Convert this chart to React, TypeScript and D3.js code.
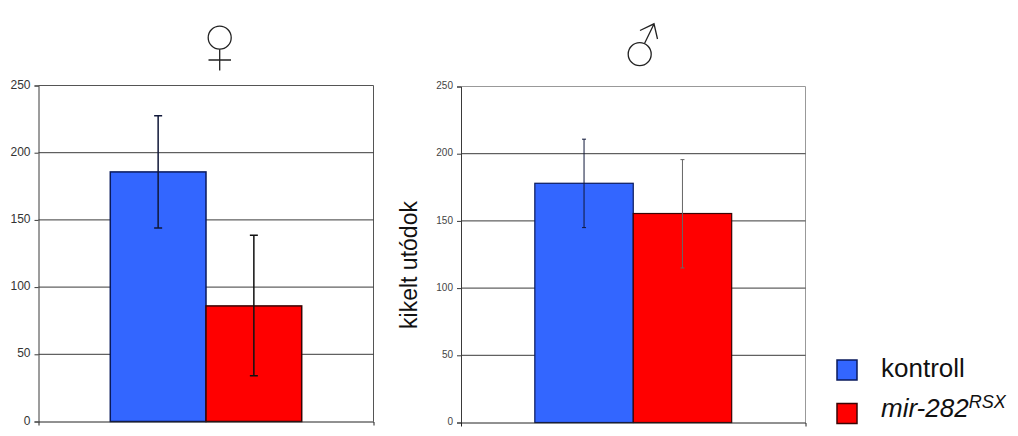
import { useEffect, useRef } from "react";
import * as d3 from "d3";

const seriesNames = ["kontroll", "mir-282"];
const seriesColors = ["#3366ff", "#ff0000"];
const seriesStrokes = ["#0a1a5c", "#3a0404"];
const yTicks = [0, 50, 100, 150, 200, 250];

const femaleValues = [185.7, 86];
const femaleErrLow = [144, 34];
const femaleErrHigh = [227.4, 138.6];

const maleValues = [178, 155.5];
const maleErrLow = [145, 115];
const maleErrHigh = [210.8, 195.6];

const FONT = "'Liberation Sans', Arial, sans-serif";

function Panel({ box, values, low, high, tickFont, tickColor, capHalf, errWidth, errColors, borderColor, barStroke }: any) {
  const ref = useRef<SVGGElement>(null);

  useEffect(() => {
    const g = d3.select(ref.current);
    g.selectAll("*").remove();

    const x = d3.scaleBand<string>()
      .domain(seriesNames)
      .range([box.left, box.right])
      .paddingInner(0)
      .paddingOuter(0.75);
    const y = d3.scaleLinear([0, 250], [box.bottom, box.top]);

    // plot border, top and right side only, the axes draw the rest
    g.append("path")
      .attr("fill", "none")
      .attr("stroke", borderColor)
      .attr("d", `M${box.left},${box.top}H${box.right}V${box.bottom}`);

    // grid lines
    g.append("g")
      .selectAll("line")
      .data(yTicks.filter(d => d > 0 && d < 250))
      .join("line")
      .attr("x1", box.left)
      .attr("x2", box.right)
      .attr("y1", d => y(d))
      .attr("y2", d => y(d))
      .attr("stroke", "#3a3a3a");

    // bars
    g.append("g")
      .selectAll("rect")
      .data(values)
      .join("rect")
      .attr("x", (_, i) => x(seriesNames[i]))
      .attr("y", (d: any) => y(d))
      .attr("width", x.bandwidth())
      .attr("height", (d: any) => y(0) - y(d))
      .attr("fill", (_, i) => seriesColors[i])
      .attr("stroke", (_, i) => seriesStrokes[i])
      .attr("stroke-width", barStroke);

    // error bars
    const err = g.append("g")
      .selectAll("g")
      .data(values)
      .join("g")
      .attr("transform", (_, i) => `translate(${x(seriesNames[i]) + x.bandwidth() / 2},0)`)
      .attr("stroke", (_, i) => errColors[i])
      .attr("stroke-width", errWidth)
      .attr("fill", "none");
    err.append("path")
      .attr("d", (_, i) =>
        `M${-capHalf},${y(high[i])}H${capHalf}M0,${y(high[i])}V${y(low[i])}M${-capHalf},${y(low[i])}H${capHalf}`);

    // axes
    const gy = g.append("g")
      .attr("transform", `translate(${box.left},0)`)
      .call(d3.axisLeft(y).tickValues(yTicks).tickSizeOuter(0).tickSize(4).tickPadding(4));
    gy.selectAll("text")
      .attr("font-family", FONT)
      .attr("font-size", tickFont)
      .attr("fill", tickColor)
      .attr("dy", "0.22em");
    gy.selectAll("line,path").attr("stroke", "#3a3a3a");

    const gx = g.append("g")
      .attr("transform", `translate(0,${box.bottom})`)
      .call(d3.axisBottom(x).tickValues([]).tickSizeOuter(4));
    gx.selectAll("path").attr("stroke", "#222");
  }, []);

  return <g ref={ref} />;
}

// thin outlined gender signs, the font glyphs are too heavy for these
function FemaleSign() {
  return (
    <g fill="none" stroke="#222" strokeWidth={1.3}>
      <title>♀</title>
      <circle cx={219.7} cy={37.7} r={11.5} />
      <path d="M219.7,49.2V70.5M208.5,60H231" />
    </g>
  );
}

function MaleSign() {
  return (
    <g fill="none" stroke="#222" strokeWidth={1.3}>
      <title>♂</title>
      <circle cx={639.7} cy={54.2} r={11.5} />
      <path d="M644.5,43.5L654,24M640,30.5L654,23.8L657.5,39" />
    </g>
  );
}

export default function App() {
  return (
    <svg width={1018} height={436} style={{ position: "absolute", left: 0, top: 0, background: "#fff" }}>
      <Panel
        box={{ left: 38.5, right: 373.5, top: 85.5, bottom: 421.5 }}
        values={femaleValues} low={femaleErrLow} high={femaleErrHigh}
        tickFont={12} tickColor="#333" capHalf={4} errWidth={1.5}
        errColors={["#10183a", "#111"]} borderColor="#555" barStroke={1.5}
      />
      <FemaleSign />
      <Panel
        box={{ left: 461, right: 805.5, top: 86.5, bottom: 422.5 }}
        values={maleValues} low={maleErrLow} high={maleErrHigh}
        tickFont={10} tickColor="#444" capHalf={2} errWidth={1}
        errColors={["#10183a", "#666"]} borderColor="#999" barStroke={1.2}
      />
      <MaleSign />

      <text transform="translate(416.5,265) rotate(-90)" textAnchor="middle" fontFamily={FONT} fontSize={23} fill="#111">kikelt utódok</text>

      <rect x={837} y={360} width={20} height={20} fill={seriesColors[0]} stroke={seriesStrokes[0]} strokeWidth={1.5} />
      <rect x={837} y={403.5} width={20} height={20} fill={seriesColors[1]} stroke={seriesStrokes[1]} strokeWidth={1.5} />
      <text x={881} y={376.5} fontFamily={FONT} fontSize={26} fill="#111">{seriesNames[0]}</text>
      <text x={881} y={417} fontFamily={FONT} fontSize={26} fontStyle="italic" fill="#111">
        {seriesNames[1]}
        <tspan dy={-9} fontSize={18}>RSX</tspan>
      </text>
    </svg>
  );
}
